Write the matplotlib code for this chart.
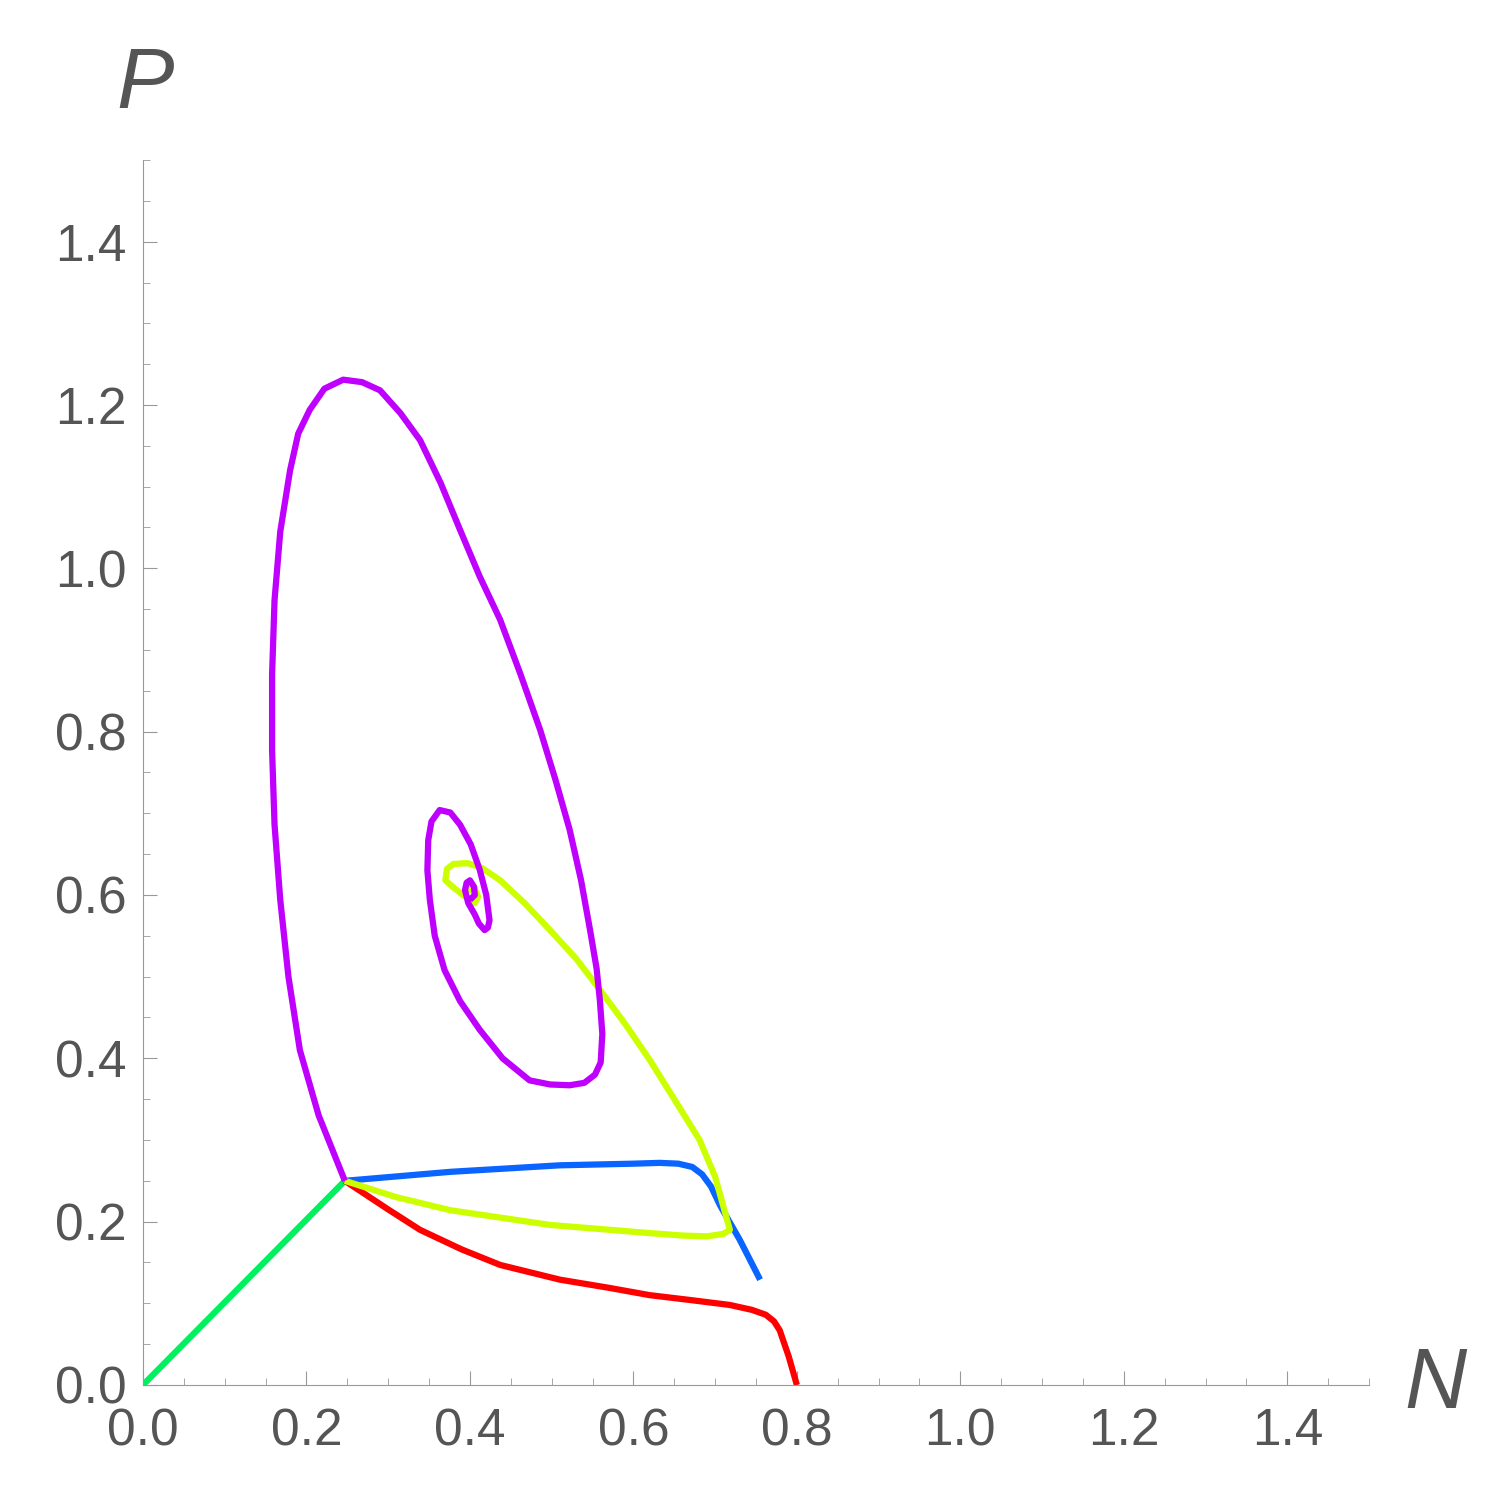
import numpy as np
import matplotlib.pyplot as plt
from matplotlib.ticker import MultipleLocator

plt.rcParams["font.family"] = ["Liberation Sans", "DejaVu Sans"]

green_n = [0.0, 0.247]
green_p = [0.0, 0.25]

red_n = [0.247, 0.3, 0.339, 0.39, 0.437, 0.51, 0.57, 0.62, 0.67, 0.718, 0.745, 0.762, 0.772, 0.779, 0.79, 0.8]
red_p = [0.25, 0.215, 0.19, 0.166, 0.147, 0.129, 0.119, 0.11, 0.104, 0.098, 0.092, 0.086, 0.078, 0.067, 0.035, 0.0]

blue_n = [0.247, 0.376, 0.51, 0.6, 0.632, 0.655, 0.672, 0.684, 0.695, 0.706, 0.73, 0.755]
blue_p = [0.25, 0.261, 0.269, 0.271, 0.272, 0.271, 0.267, 0.258, 0.243, 0.22, 0.178, 0.129]

yellow_n = [0.247, 0.31, 0.376, 0.498, 0.62, 0.66, 0.69, 0.71, 0.718, 0.70, 0.681, 0.65, 0.62, 0.59,
            0.559, 0.53, 0.498, 0.467, 0.437, 0.415, 0.397, 0.38, 0.372, 0.37, 0.379, 0.389, 0.398, 0.406,
            0.41, 0.405, 0.398]
yellow_p = [0.25, 0.23, 0.214, 0.196, 0.186, 0.183, 0.182, 0.185, 0.19, 0.255, 0.3, 0.35, 0.398, 0.442,
            0.484, 0.522, 0.557, 0.59, 0.618, 0.633, 0.639, 0.638, 0.632, 0.618, 0.61, 0.602, 0.595, 0.59,
            0.598, 0.61, 0.604]

purple_n = [0.247, 0.215, 0.192, 0.178, 0.168, 0.161, 0.158, 0.158, 0.161, 0.168, 0.18, 0.19, 0.204,
            0.222, 0.245, 0.268, 0.29, 0.315, 0.339, 0.364, 0.388, 0.412, 0.437, 0.462, 0.486, 0.505,
            0.522, 0.536, 0.547, 0.555, 0.559, 0.562, 0.56, 0.553, 0.54, 0.522, 0.498, 0.473, 0.44,
            0.412, 0.388, 0.369, 0.357, 0.351, 0.348, 0.349, 0.353, 0.363, 0.376, 0.388, 0.401, 0.412,
            0.42, 0.424, 0.422, 0.418, 0.411, 0.406, 0.398, 0.394, 0.396, 0.4, 0.405, 0.406, 0.4]
purple_p = [0.25, 0.33, 0.41, 0.5, 0.594, 0.686, 0.777, 0.87, 0.961, 1.045, 1.12, 1.165, 1.194,
            1.22, 1.231, 1.228, 1.218, 1.19, 1.157, 1.105, 1.047, 0.99, 0.937, 0.87, 0.802, 0.74,
            0.68, 0.618, 0.557, 0.51, 0.471, 0.43, 0.395, 0.38, 0.37, 0.367, 0.368, 0.373, 0.4,
            0.435, 0.47, 0.508, 0.55, 0.594, 0.63, 0.667, 0.69, 0.704, 0.701, 0.686, 0.662, 0.631,
            0.6, 0.569, 0.56, 0.557, 0.565, 0.576, 0.59, 0.606, 0.615, 0.618, 0.61, 0.6, 0.594]

series = [
    (green_n, green_p, "#00f060"),
    (red_n, red_p, "#ff0000"),
    (blue_n, blue_p, "#0a64ff"),
    (yellow_n, yellow_p, "#ccff00"),
    (purple_n, purple_p, "#bf00ff"),
]

fig = plt.figure(figsize=(14.92, 14.87), dpi=100)
ax = fig.add_axes([0.0958, 0.0686, 0.9176 - 0.0958, 0.8924 - 0.0686])
for n, p, c in series:
    ax.plot(n, p, color=c, lw=4.5, solid_capstyle="butt", solid_joinstyle="round")

ax.set_xlim(0, 1.5)
ax.set_ylim(0, 1.5)
for s in ["top", "right"]:
    ax.spines[s].set_visible(False)
for s in ["left", "bottom"]:
    ax.spines[s].set_color("#999999")
ticks = [0.0, 0.2, 0.4, 0.6, 0.8, 1.0, 1.2, 1.4]
ax.set_xticks(ticks)
ax.set_yticks(ticks)
ax.set_xticklabels([f"{t:.1f}" for t in ticks])
ax.set_yticklabels([f"{t:.1f}" for t in ticks])
ax.xaxis.set_minor_locator(MultipleLocator(0.05))
ax.yaxis.set_minor_locator(MultipleLocator(0.05))
ax.tick_params(which="major", direction="in", length=10, color="#999999",
               labelsize=37, labelcolor="#555555")
ax.tick_params(axis="x", which="major", pad=16)
ax.tick_params(axis="y", which="major", pad=12)
ax.tick_params(which="minor", direction="in", length=5, color="#999999")

fig.text(0.962, 0.068, "N", fontsize=62, style="italic", color="#555555", ha="center", va="center")
fig.text(0.097, 0.942, "P", fontsize=62, style="italic", color="#555555", ha="center", va="center")

fig.savefig("out.png", dpi=100)
